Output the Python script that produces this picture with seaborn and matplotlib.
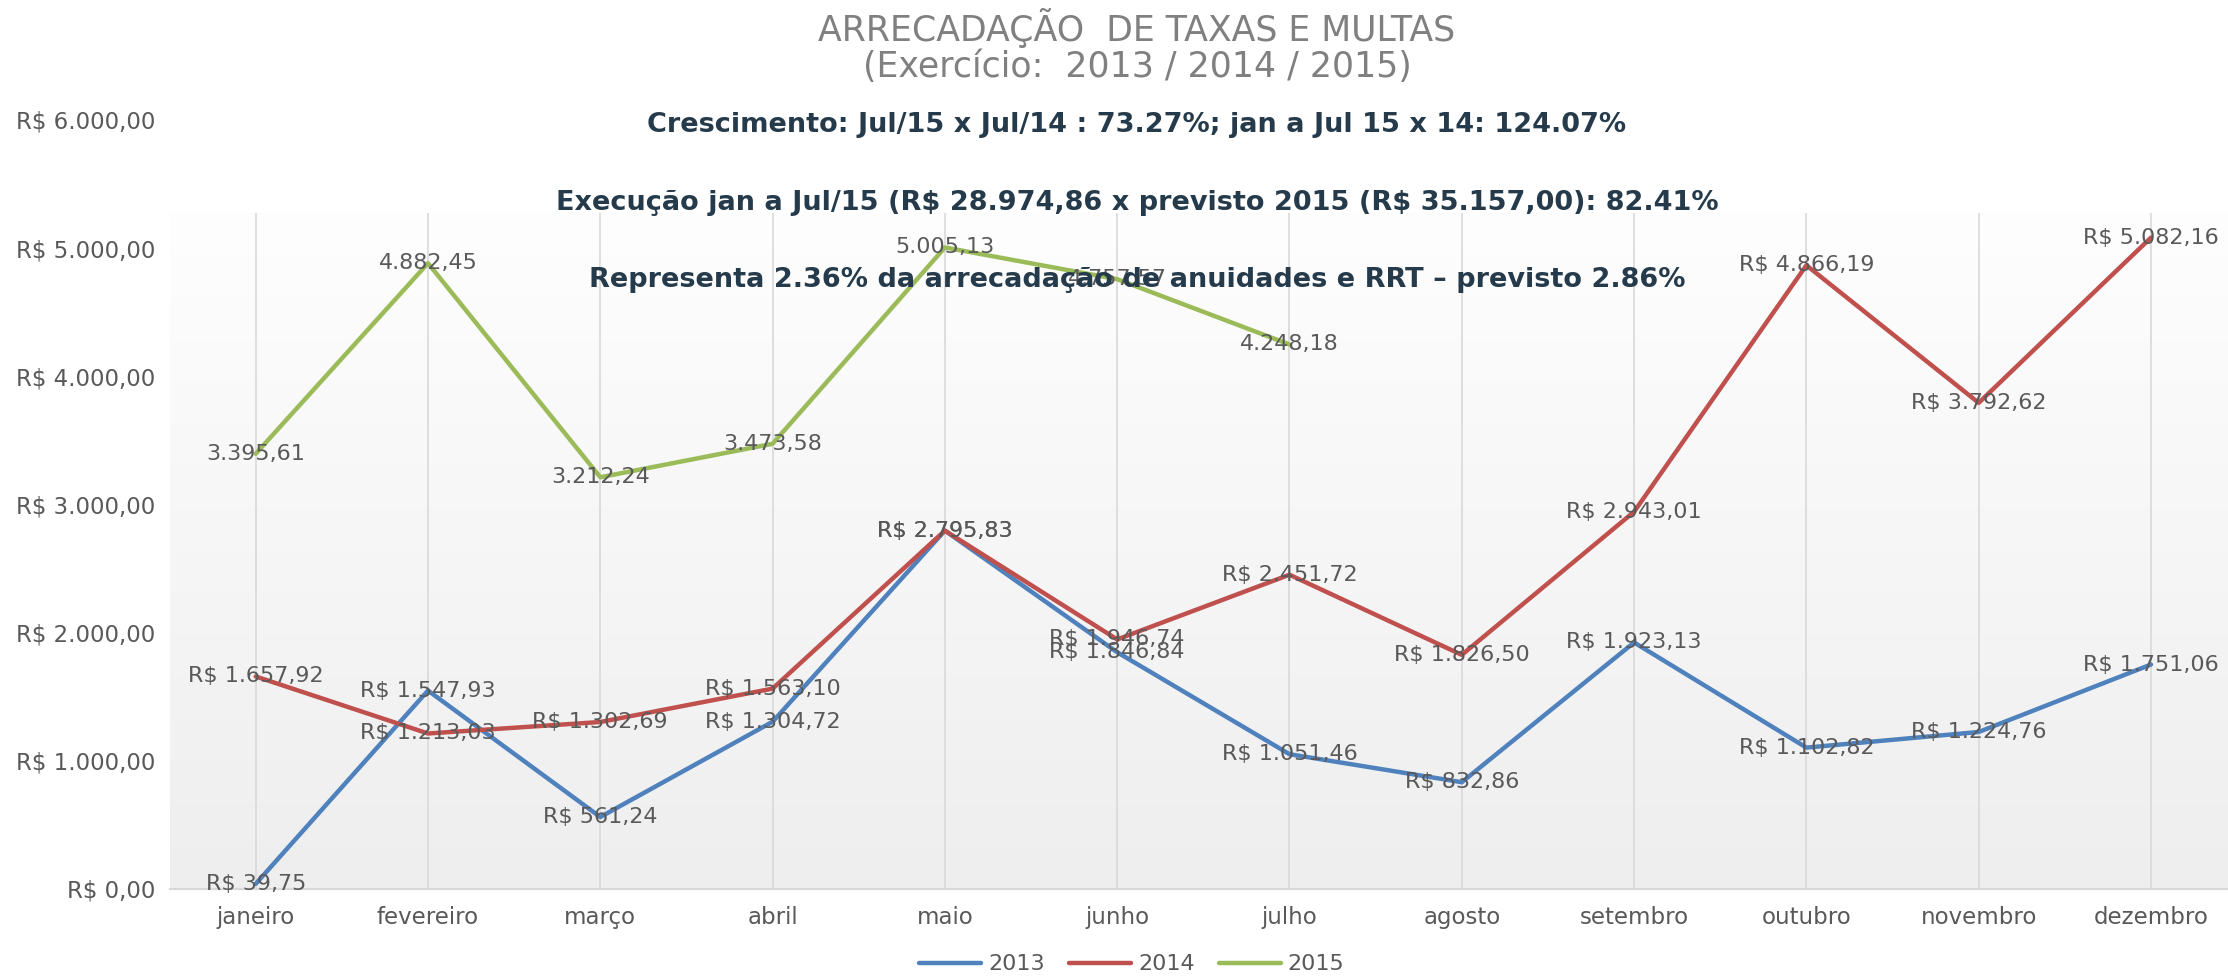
import numpy as np
import pandas as pd
import matplotlib.pyplot as plt
from matplotlib.colors import LinearSegmentedColormap
from matplotlib.lines import Line2D
import seaborn as sns

# dados
meses = ['janeiro', 'fevereiro', 'março', 'abril', 'maio', 'junho',
         'julho', 'agosto', 'setembro', 'outubro', 'novembro', 'dezembro']
anos = ['2013', '2014', '2015']
valores_2013 = [39.75, 1547.93, 561.24, 1304.72, 2795.83, 1846.84,
                1051.46, 832.86, 1923.13, 1102.82, 1224.76, 1751.06]
valores_2014 = [1657.92, 1213.03, 1302.69, 1563.10, 2795.83, 1946.74,
                2451.72, 1826.50, 2943.01, 4866.19, 3792.62, 5082.16]
valores_2015 = [3395.61, 4882.45, 3212.24, 3473.58, 5005.13, 4757.57, 4248.18]
y_ticks = [0, 1000, 2000, 3000, 4000, 5000, 6000]

notas = [
    "Crescimento: Jul/15 x Jul/14 : 73.27%; jan a Jul 15 x 14: 124.07%",
    "Execução jan a Jul/15 (R$ 28.974,86 x previsto 2015 (R$ 35.157,00): 82.41%",
    "Representa 2.36% da arrecadação de anuidades e RRT – previsto 2.86%",
]

cores = {'2013': '#4F81BD', '2014': '#C0504D', '2015': '#9BBB59'}
cinza = '#595959'


def brl(v, prefixo=True):
    s = f"{v:,.2f}".replace(',', 'X').replace('.', ',').replace('X', '.')
    return f"R$ {s}" if prefixo else s


frames = []
for ano, vals in zip(anos, [valores_2013, valores_2014, valores_2015]):
    frames.append(pd.DataFrame({'mes': meses[:len(vals)], 'valor': vals, 'ano': ano}))
df = pd.concat(frames, ignore_index=True)

sns.set_style("white")
plt.rcParams['font.family'] = ['DejaVu Sans']
plt.rcParams['text.parse_math'] = False  # "R$" não é mathtext

fig = plt.figure(figsize=(22.28, 9.8), dpi=100)
ax = fig.add_axes([0.0761, 0.0929, 0.928, 0.7847])

# fundo em degradê da área de plotagem
topo_fundo = 5276
cmap = LinearSegmentedColormap.from_list('fundo', ['#eeeeee', '#fefefe'])
ax.imshow(np.linspace(0, 1, 256).reshape(-1, 1), extent=[-0.5, 11.5, 0, topo_fundo],
          aspect='auto', cmap=cmap, origin='lower', zorder=0)
ax.vlines(range(len(meses)), 0, topo_fundo, color='#d9d9d9', linewidth=1.2, zorder=1)

sns.lineplot(data=df, x='mes', y='valor', hue='ano', palette=cores, linewidth=3.2,
             sort=False, legend=False, ax=ax, zorder=2)

for _, row in df.iterrows():
    x = meses.index(row['mes'])
    ax.annotate(brl(row['valor'], prefixo=row['ano'] != '2015'), (x, row['valor']),
                ha='center', va='center', fontsize=16, color=cinza, zorder=3)

ax.set_xlim(-0.5, 11.5)
ax.set_ylim(0, 6000)
ax.set_yticks(y_ticks)
ax.set_yticklabels([brl(v) for v in y_ticks])
ax.set_xticks(range(len(meses)))
ax.set_xticklabels(meses)
ax.tick_params(axis='both', length=0, labelsize=16.5, labelcolor=cinza)
ax.tick_params(axis='x', pad=12)
ax.tick_params(axis='y', pad=10)
ax.set_xlabel('')
ax.set_ylabel('')
for lado in ['top', 'right', 'left']:
    ax.spines[lado].set_visible(False)
ax.spines['bottom'].set_color('#d9d9d9')
ax.spines['bottom'].set_linewidth(1.5)

fig.text(0.5103, 0.971, "ARRECADAÇÃO  DE TAXAS E MULTAS", ha='center', va='center',
         fontsize=25, color='#808080')
fig.text(0.5103, 0.932, "(Exercício:  2013 / 2014 / 2015)", ha='center', va='center',
         fontsize=25, color='#808080')

for texto, y in zip(notas, [0.872, 0.793, 0.714]):
    fig.text(0.5103, y, texto, ha='center', va='center', fontsize=19.5,
             fontweight='bold', color='#253B4B', zorder=5)

handles = [Line2D([0], [0], color=cores[a], linewidth=3.2) for a in anos]
fig.legend(handles, anos, loc='center', bbox_to_anchor=(0.508, 0.016), ncol=3,
           frameon=False, fontsize=16, handlelength=2.8, handletextpad=0.3,
           columnspacing=1.1, labelcolor=cinza)

fig.savefig('out.png', dpi=100)
